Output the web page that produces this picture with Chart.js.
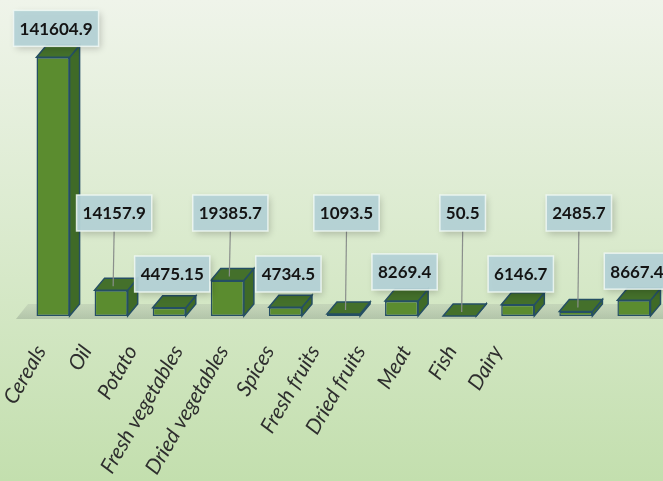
<!DOCTYPE html>
<html>
<head>
<meta charset="utf-8">
<script src="https://cdn.jsdelivr.net/npm/chart.js@4.4.1/dist/chart.umd.min.js"></script>
<style>
  html, body { margin: 0; padding: 0; }
  body { width: 663px; height: 481px; overflow: hidden;
         background: linear-gradient(to bottom, #eff4ea 0%, #dcebd0 45%, #c3dfae 100%); }
  #wrap { position: relative; width: 663px; height: 481px; }
</style>
</head>
<body>
<div id="wrap"><canvas id="barChart" width="663" height="481"></canvas></div>
<script>
var categories = ['Cereals', 'Oil', 'Potato', 'Fresh vegetables', 'Dried vegetables', 'Spices',
    'Fresh fruits', 'Dried fruits', 'Meat', 'Fish', 'Dairy'];
var values = [141604.9, 14157.9, 4475.15, 19385.7, 4734.5, 1093.5, 8269.4, 50.5, 6146.7, 2485.7, 8667.4];
var valueLabels = ['141604.9', '14157.9', '4475.15', '19385.7', '4734.5', '1093.5',
    '8269.4', '50.5', '6146.7', '2485.7', '8667.4'];
// axis labels sit on a tighter spacing than the bars in the original
var tickLabels = categories.concat(['', '', '']);

var DX = 10, DY = 12;

function poly(ctx, pts, fill, stroke) {
    ctx.beginPath();
    ctx.moveTo(pts[0][0], pts[0][1]);
    for (var i = 1; i < pts.length; i++) ctx.lineTo(pts[i][0], pts[i][1]);
    ctx.closePath();
    ctx.fillStyle = fill;
    ctx.fill();
    ctx.lineWidth = 1.5;
    ctx.strokeStyle = stroke;
    ctx.stroke();
}

// floor + side/top faces of each bar
var depthPlugin = {
    id: 'depth',
    beforeDatasetsDraw: function(chart) {
        var ctx = chart.ctx, area = chart.chartArea;
        var base = area.bottom;
        ctx.save();
        ctx.beginPath();
        ctx.moveTo(area.left - 8, base + 3);
        ctx.lineTo(area.left + 4, base - 12);
        ctx.lineTo(area.right + 20, base - 12);
        ctx.lineTo(area.right + 20, base + 3);
        ctx.closePath();
        var g = ctx.createLinearGradient(0, base - 12, 0, base + 3);
        g.addColorStop(0, 'rgba(150,160,150,0.22)');
        g.addColorStop(1, 'rgba(130,145,130,0.4)');
        ctx.fillStyle = g;
        ctx.fill();

        var meta = chart.getDatasetMeta(0);
        meta.data.forEach(function(bar) {
            var l = bar.x - bar.width / 2, r = bar.x + bar.width / 2;
            var t = bar.y, b = bar.base;
            poly(ctx, [[r, t], [r + DX, t - DY], [r + DX, b - DY], [r, b]], '#3f6a27', '#254f64');
            poly(ctx, [[l, t], [l + DX, t - DY], [r + DX, t - DY], [r, t]], '#44702b', '#254f64');
        });
        ctx.restore();
    }
};

// callout boxes with leader lines
var calloutPlugin = {
    id: 'callouts',
    afterDatasetsDraw: function(chart) {
        var ctx = chart.ctx, area = chart.chartArea;
        var meta = chart.getDatasetMeta(0);
        ctx.save();
        ctx.font = 'bold 17px Lato';
        ctx.textAlign = 'center';
        ctx.textBaseline = 'middle';
        meta.data.forEach(function(bar, i) {
            var txt = valueLabels[i];
            var row = (i % 2 === 1) ? area.bottom - 103 : area.bottom - 42;
            var topFace = bar.y - DY;
            var cy = Math.min(row, topFace - 17);
            var cx = bar.x + 3;
            var w = ctx.measureText(txt).width + 12, h = 36;
            var boxBottom = cy + h / 2;
            if (bar.y - 4 - boxBottom > 12) {
                ctx.beginPath();
                ctx.moveTo(cx, boxBottom);
                ctx.lineTo(bar.x + 2, bar.y - 4);
                ctx.lineWidth = 1.2;
                ctx.strokeStyle = '#8a8f8c';
                ctx.stroke();
            }
            ctx.shadowColor = 'rgba(0,0,0,0.22)';
            ctx.shadowBlur = 7;
            ctx.shadowOffsetX = 2;
            ctx.shadowOffsetY = 3;
            ctx.fillStyle = 'rgba(180,210,214,0.95)';
            ctx.fillRect(cx - w / 2, cy - h / 2, w, h);
            ctx.shadowColor = 'transparent';
            ctx.lineWidth = 1.5;
            ctx.strokeStyle = 'rgba(240,248,245,0.85)';
            ctx.strokeRect(cx - w / 2, cy - h / 2, w, h);
            ctx.fillStyle = '#141414';
            ctx.fillText(txt, cx, cy + 1);
        });
        ctx.restore();
    }
};

var ctx = document.getElementById('barChart').getContext('2d');
new Chart(ctx, {
    type: 'bar',
    data: {
        labels: categories,
        datasets: [{
            data: values,
            backgroundColor: '#5b8c2f',
            borderColor: '#254f64',
            borderWidth: 1.5,
            borderSkipped: false,
            categoryPercentage: 1,
            barPercentage: 0.57,
            xAxisID: 'x',
            yAxisID: 'y'
        }]
    },
    options: {
        responsive: false,
        animation: false,
        layout: { padding: { top: 42, left: 24, right: 0, bottom: 0 } },
        plugins: { legend: { display: false }, tooltip: { enabled: false } },
        scales: {
            x: { type: 'category', display: false, offset: true },
            xl: {
                type: 'category',
                labels: tickLabels,
                position: 'bottom',
                offset: true,
                grid: { display: false, drawTicks: false },
                border: { display: false },
                ticks: {
                    autoSkip: false,
                    minRotation: 60,
                    maxRotation: 60,
                    padding: 25,
                    labelOffset: -6,
                    color: '#2e2e2e',
                    font: { family: 'Lato', style: 'italic', size: 21 }
                },
                afterFit: function(axis) {
                    axis.height = 165;
                    axis.paddingLeft = 0;
                    axis.paddingRight = 0;
                }
            },
            y: { display: false, min: 0, max: 150000 }
        }
    },
    plugins: [depthPlugin, calloutPlugin]
});
</script>
</body>
</html>
